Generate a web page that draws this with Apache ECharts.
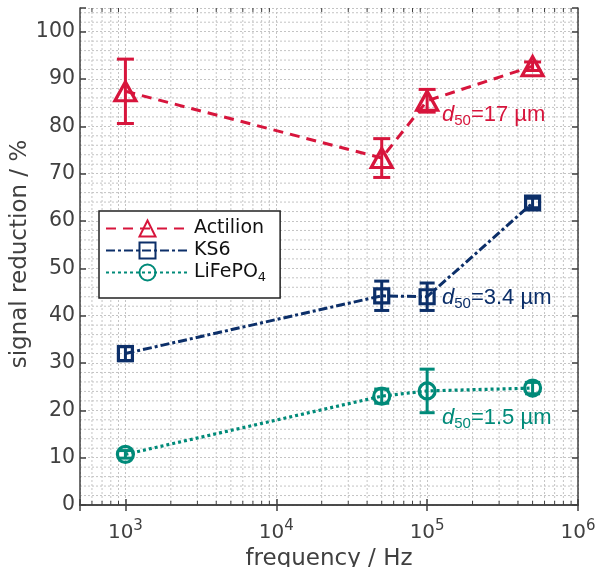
<!DOCTYPE html>
<html lang="en">
<head>
<meta charset="UTF-8">
<title>signal reduction</title>
<script src="https://cdn.jsdelivr.net/npm/echarts@6/dist/echarts.min.js"></script>
<style>
  html, body { margin: 0; padding: 0; background: #fff; }
  #chart { width: 597px; height: 567px; }
</style>
</head>
<body>
<div id="chart"></div>
<script>
// data
var freq = [1e3, 5e4, 1e5, 5e5];
var actilion = [87.4, 73.3, 85.4, 92.7];
var actilionErr = [6.8, 4.1, 2.4, 0.9];
var ks6 = [32.0, 44.2, 44.0, 63.8];
var ks6Err = [1.5, 3.1, 2.9, 1.0];
var lfp = [10.7, 23.0, 24.1, 24.7];
var lfpErr = [0.8, 1.5, 4.6, 1.2];
var xTicks = [1e3, 1e4, 1e5, 1e6];
var yTicks = [0, 10, 20, 30, 40, 50, 60, 70, 80, 90, 100];

var RED = '#d7153c', NAVY = '#0c2f69', TEAL = '#008a79';
var AX = '#404040';

// minor grid positions
var minorX = [];
[100, 1e3, 1e4, 1e5].forEach(function (d) {
  for (var k = 2; k <= 9; k++) {
    var v = d * k;
    if (v > 500 && v < 1e6) minorX.push([v, 0]);
  }
});
var minorY = [];
for (var y = 2; y <= 104; y += 2) {
  if (y % 10 !== 0) minorY.push([1e3, y]);
}

function pts(vals) {
  return freq.map(function (f, i) { return [f, vals[i]]; });
}
function errs(vals, e) {
  return freq.map(function (f, i) { return [f, vals[i] - e[i], vals[i] + e[i]]; });
}

var chart = echarts.init(document.getElementById('chart'));

function errBar(color, cap) {
  return function (params, api) {
    var lo = api.coord([api.value(0), api.value(1)]);
    var hi = api.coord([api.value(0), api.value(2)]);
    var st = { stroke: color, lineWidth: 3 };
    return {
      type: 'group',
      children: [
        { type: 'line', shape: { x1: lo[0], y1: lo[1], x2: hi[0], y2: hi[1] }, style: st },
        { type: 'line', shape: { x1: lo[0] - cap, y1: lo[1], x2: lo[0] + cap, y2: lo[1] }, style: st },
        { type: 'line', shape: { x1: hi[0] - cap, y1: hi[1], x2: hi[0] + cap, y2: hi[1] }, style: st }
      ]
    };
  };
}

function note(txt, color, top) {
  return {
    type: 'text', left: 442, top: top, z: 10,
    style: {
      text: '{i|d}{s|50}{n|' + txt + '}',
      fill: color,
      rich: {
        i: { fontStyle: 'italic', fontSize: 22, fill: color, fontFamily: 'Liberation Sans' },
        s: { fontSize: 15, fill: color, fontFamily: 'Liberation Sans', padding: [12, 0, 0, 0] },
        n: { fontSize: 22, fill: color, fontFamily: 'Liberation Sans' }
      }
    }
  };
}

var gridStyle = { stroke: '#c4c4c4', lineWidth: 1, lineDash: [2, 2] };

var option = {
  animation: false,
  textStyle: { fontFamily: 'DejaVu Sans' },
  grid: { left: 80, right: 19, top: 8, bottom: 62, outerBoundsMode: 'none', containLabel: false },
  legend: {
    data: ['Actilion', 'KS6', 'LiFePO4'],
    orient: 'vertical',
    left: 99,
    top: 211,
    padding: [8, 14, 14, 6],
    itemWidth: 83,
    itemHeight: 20,
    itemGap: 3,
    backgroundColor: '#fff',
    borderColor: '#222',
    borderWidth: 1.5,
    borderRadius: 0,
    textStyle: {
      fontSize: 19,
      color: '#111',
      fontFamily: 'DejaVu Sans',
      rich: { sub: { fontSize: 13, padding: [10, 0, 0, 0] } }
    },
    formatter: function (n) { return n === 'LiFePO4' ? 'LiFePO{sub|4}' : n; }
  },
  xAxis: [{
    type: 'log',
    logBase: 10,
    min: 500,
    max: 1e6,
    name: 'frequency / Hz',
    nameLocation: 'middle',
    nameGap: 32,
    nameTextStyle: { fontSize: 23, color: AX },
    axisLine: { lineStyle: { color: AX, width: 1.5 } },
    axisTick: { inside: true, length: 6, lineStyle: { color: AX, width: 1.5 } },
    splitLine: { show: true, lineStyle: { color: '#c4c4c4', type: [2, 2] } },
    axisLabel: {
      fontSize: 20,
      color: AX,
      margin: 14,
      formatter: function (v) {
        var k = Math.round(Math.log10(v));
        if (xTicks.indexOf(Math.pow(10, k)) < 0 || Math.abs(Math.pow(10, k) - v) > 1e-6 * v) return '';
        return '10{sup|' + k + '}';
      },
      rich: { sup: { fontSize: 15, color: AX, padding: [0, 0, 12, 0] } }
    }
  }, {
    type: 'log',
    logBase: 10,
    min: 500,
    max: 1e6,
    position: 'top',
    axisLine: { lineStyle: { color: AX, width: 1.5 } },
    axisTick: { inside: true, length: 6, lineStyle: { color: AX, width: 1.5 } },
    axisLabel: { show: false },
    splitLine: { show: false }
  }],
  yAxis: [{
    type: 'value',
    min: 0,
    max: 105,
    interval: 10,
    axisLine: { show: true, lineStyle: { color: AX, width: 1.5 } },
    axisTick: { inside: true, length: 6, lineStyle: { color: AX, width: 1.5 } },
    splitLine: { show: true, lineStyle: { color: '#c4c4c4', type: [2, 2] } },
    axisLabel: {
      fontSize: 20.5,
      color: AX,
      margin: 5,
      formatter: function (v) { return yTicks.indexOf(v) >= 0 ? String(v) : ''; }
    }
  }, {
    type: 'value',
    min: 0,
    max: 105,
    interval: 10,
    position: 'right',
    axisLine: { show: true, lineStyle: { color: AX, width: 1.5 } },
    axisTick: { inside: true, length: 6, lineStyle: { color: AX, width: 1.5 } },
    axisLabel: { show: false },
    splitLine: { show: false }
  }],
  graphic: [
    {
      type: 'text', x: 20, y: 254, rotation: Math.PI / 2,
      style: {
        text: 'signal reduction / %', fill: AX,
        fontSize: 23, fontFamily: 'DejaVu Sans',
        textAlign: 'center', textVerticalAlign: 'middle'
      }
    },
    note('=17 µm', RED, 104),
    note('=3.4 µm', NAVY, 287),
    note('=1.5 µm', TEAL, 407)
  ],
  series: [
    {
      type: 'custom', silent: true, z: 0,
      data: minorX,
      renderItem: function (params, api) {
        var p = api.coord([api.value(0), 50]);
        var cs = params.coordSys;
        var tk = { stroke: AX, lineWidth: 1 };
        return { type: 'group', children: [
          { type: 'line', shape: { x1: p[0], y1: cs.y, x2: p[0], y2: cs.y + cs.height }, style: gridStyle },
          { type: 'line', shape: { x1: p[0], y1: cs.y + cs.height, x2: p[0], y2: cs.y + cs.height - 4 }, style: tk },
          { type: 'line', shape: { x1: p[0], y1: cs.y, x2: p[0], y2: cs.y + 4 }, style: tk }
        ] };
      }
    },
    {
      type: 'custom', silent: true, z: 0,
      data: minorY,
      renderItem: function (params, api) {
        var p = api.coord([api.value(0), api.value(1)]);
        var cs = params.coordSys;
        return { type: 'line', shape: { x1: cs.x, y1: p[1], x2: cs.x + cs.width, y2: p[1] }, style: gridStyle };
      }
    },
    { type: 'custom', silent: true, z: 3, data: errs(actilion, actilionErr), renderItem: errBar(RED, 8.5) },
    { type: 'custom', silent: true, z: 3, data: errs(ks6, ks6Err), renderItem: errBar(NAVY, 7.5) },
    { type: 'custom', silent: true, z: 3, data: errs(lfp, lfpErr), renderItem: errBar(TEAL, 7.5) },
    {
      name: 'Actilion', type: 'line', z: 4,
      data: pts(actilion),
      symbol: 'triangle', symbolSize: [21, 19],
      lineStyle: { color: RED, width: 3, type: [10, 7] },
      itemStyle: { color: 'rgba(255,255,255,0)', borderColor: RED, borderWidth: 3.2 }
    },
    {
      name: 'KS6', type: 'line', z: 4,
      data: pts(ks6),
      symbol: 'rect', symbolSize: 14,
      lineStyle: { color: NAVY, width: 3, type: [9, 3, 3, 3] },
      itemStyle: { color: 'rgba(255,255,255,0)', borderColor: NAVY, borderWidth: 3.2 }
    },
    {
      name: 'LiFePO4', type: 'line', z: 4,
      data: pts(lfp),
      symbol: 'circle', symbolSize: 16,
      lineStyle: { color: TEAL, width: 3.2, type: [3, 3] },
      itemStyle: { color: 'rgba(255,255,255,0)', borderColor: TEAL, borderWidth: 3.2 }
    }
  ]
};

chart.setOption(option);
window.onresize = function () { chart.resize(); };
</script>
</body>
</html>
